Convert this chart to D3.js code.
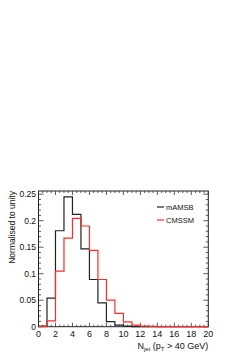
<!DOCTYPE html>
<html><head><meta charset="utf-8">
<script src="https://cdn.jsdelivr.net/npm/d3@7"></script>
<style>html,body{margin:0;padding:0;background:#fff;}svg{display:block;}text{font-family:"Liberation Sans",Arial,sans-serif;}</style>
</head><body>
<svg id="c" width="240" height="355"></svg>
<script>
const binEdges = d3.range(0, 21, 1);
const mAMSB = [0.001,0.054,0.181,0.245,0.212,0.147,0.089,0.045,0.0094,0.003,0.001,0.0003,0,0,0,0,0,0,0,0];
const CMSSM = [0,0.011,0.105,0.167,0.2045,0.19,0.144,0.089,0.05,0.025,0.009,0.003,0.001,0.0005,0.0002,0.0001,0,0,0,0];
const xTicks = d3.range(0, 21, 2);
const yTicks = [0,0.05,0.1,0.15,0.2,0.25];
const seriesNames = ["mAMSB","CMSSM"];
const seriesColors = ["#222","#ff2a2a"];

const svg = d3.select("#c");
const L = 38.5, R = 208.3, T = 191, B = 326.7;
const x = d3.scaleLinear().domain([0,20]).range([L,R]);
const y = d3.scaleLinear().domain([0,0.256]).range([B,T]);

// frame
svg.append("rect").attr("x",L).attr("y",T).attr("width",R-L).attr("height",B-T)
  .attr("fill","none").attr("stroke","#222").attr("stroke-width",1);

const g = svg.append("g").attr("stroke","#333").attr("stroke-width",0.8);
// x ticks (inward, bottom and top)
d3.range(0, 20.001, 0.5).forEach(v=>{
  const major = Math.abs(v/2 - Math.round(v/2))<1e-6;
  const len = major?4:2;
  g.append("line").attr("x1",x(v)).attr("x2",x(v)).attr("y1",B).attr("y2",B-len);
  g.append("line").attr("x1",x(v)).attr("x2",x(v)).attr("y1",T).attr("y2",T+len);
});
// y ticks (inward, left and right)
d3.range(0, 0.2561, 0.01).forEach(v=>{
  const major = Math.abs(v/0.05 - Math.round(v/0.05))<1e-6;
  const len = major?5:2.5;
  g.append("line").attr("y1",y(v)).attr("y2",y(v)).attr("x1",L).attr("x2",L+len);
  g.append("line").attr("y1",y(v)).attr("y2",y(v)).attr("x1",R).attr("x2",R-len);
});

// tick labels
svg.append("g").selectAll("text").data(xTicks).join("text")
  .attr("x",d=>x(d)).attr("y",336.5).attr("text-anchor","middle")
  .attr("font-size",9).attr("fill","#111").text(d=>d);
svg.append("g").selectAll("text").data(yTicks).join("text")
  .attr("x",36).attr("y",d=>y(d)+3).attr("text-anchor","end")
  .attr("font-size",8.5).attr("fill","#111").text(d=>d===0?"0":String(d));

// histograms
const line = d3.line().x(d=>x(d[0])).y(d=>y(d[1])).curve(d3.curveStepAfter);
[mAMSB, CMSSM].forEach((vals,i)=>{
  const pts = vals.map((v,k)=>[binEdges[k], v]);
  pts.push([binEdges[vals.length], vals[vals.length-1]]);
  svg.append("path").attr("d", line(pts)).attr("fill","none")
    .attr("stroke", seriesColors[i]).attr("stroke-width",1.2);
});

// legend
seriesNames.forEach((n,i)=>{
  const ly = 207 + i*13;
  svg.append("line").attr("x1",157).attr("x2",164).attr("y1",ly).attr("y2",ly)
    .attr("stroke",seriesColors[i]).attr("stroke-width",1.2);
  svg.append("text").attr("x",166).attr("y",ly+2.6).attr("font-size",7.5)
    .attr("fill","#111").text(n);
});

// axis titles
const xt = svg.append("text").attr("x",R).attr("y",349).attr("text-anchor","end")
  .attr("font-size",9).attr("fill","#111");
xt.append("tspan").text("N");
xt.append("tspan").attr("font-size",6).attr("dy",2).text("jet");
xt.append("tspan").attr("dy",-2).text(" (p");
xt.append("tspan").attr("font-size",6).attr("dy",2).text("T");
xt.append("tspan").attr("dy",-2).text(" > 40 GeV)");

svg.append("text").attr("transform",`translate(14.5,${T}) rotate(-90)`)
  .attr("text-anchor","end").attr("font-size",8.5).attr("fill","#111")
  .text("Normalised to unity");
</script>
</body></html>
